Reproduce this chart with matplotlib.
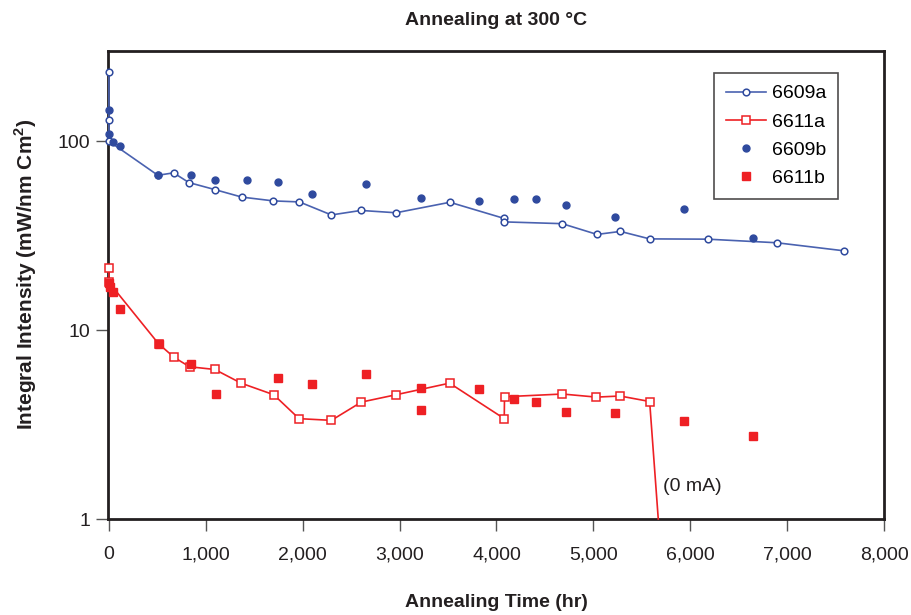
import numpy as np
import matplotlib
matplotlib.use('Agg')
import matplotlib.pyplot as plt
from matplotlib.ticker import FixedLocator, NullLocator

plt.rcParams['font.family'] = ['Liberation Sans', 'DejaVu Sans']

# 6609a - open circles with line
t_6609a = [0, 0, 0, 505, 667, 825, 1090, 1371, 1698, 1966, 2296, 2601, 2963, 3519,
           4080, 4080, 4678, 5038, 5279, 5581, 6179, 6894, 7585]
i_6609a = [232, 129, 100, 66, 68, 60.4, 55.5, 50.6, 48.3, 47.7, 40.7, 43.0, 41.8, 47.5,
           39.0, 37.4, 36.6, 32.1, 33.3, 30.4, 30.3, 29.0, 26.3]

# 6611a - open squares with line (last point: drop to 0 mA)
t_6611a = [0, 0, 512, 673, 832, 1093, 1364, 1701, 1962, 2296, 2605, 2963, 3516,
           4080, 4083, 4681, 5031, 5276, 5581, 5670]
i_6611a = [21.4, 17.9, 8.47, 7.17, 6.40, 6.19, 5.24, 4.55, 3.40, 3.33, 4.16, 4.55, 5.24,
           3.40, 4.44, 4.59, 4.42, 4.48, 4.19, 1.0]

# 6609b - filled circles
t_6609b = [0, 0, 41, 110, 505, 842, 1093, 1430, 1742, 2100, 2653, 3221, 3822, 4176,
           4413, 4719, 5220, 5935, 6647]
i_6609b = [146, 109, 99, 94, 66, 66, 62, 62, 60.5, 52.3, 59.2, 49.9, 48.0, 49.3,
           49.3, 46.2, 39.6, 43.8, 30.8]

# 6611b - filled squares
t_6611b = [0, 10, 44, 113, 512, 842, 1100, 1742, 2100, 2657, 3224, 3224, 3822, 4176,
           4413, 4719, 5227, 5939, 6650]
i_6611b = [17.7, 17.0, 15.9, 12.9, 8.47, 6.63, 4.60, 5.59, 5.20, 5.87, 4.95, 3.79, 4.89,
           4.31, 4.18, 3.70, 3.65, 3.31, 2.75]

xticks = [0, 1000, 2000, 3000, 4000, 5000, 6000, 7000, 8000]
xticklabels = ['0', '1,000', '2,000', '3,000', '4,000', '5,000', '6,000', '7,000', '8,000']
yticks = [1, 10, 100]
yticklabels = ['1', '10', '100']

blue = '#2f4a9e'
blue_line = '#4a62b0'
red = '#ee2024'
dark = '#231f20'

fig = plt.figure(figsize=(9.12, 6.15), dpi=100)
ax = fig.add_axes([0.1184, 0.156, 0.9693 - 0.1184, 0.917 - 0.156])

ax.plot(t_6609a, i_6609a, color=blue_line, lw=1.2, marker='o', ms=4.8, mfc='white',
        mec=blue, mew=1.1, label='6609a', zorder=3, clip_on=False)
ax.plot(t_6611a, i_6611a, color=red, lw=1.2, marker='s', ms=5.6, mfc='white',
        mec=red, mew=1.1, markevery=list(range(len(t_6611a) - 1)), label='6611a',
        zorder=3, clip_on=False)
ax.plot(t_6609b, i_6609b, ls='none', marker='o', ms=5, color=blue, label='6609b',
        zorder=4, clip_on=False)
ax.plot(t_6611b, i_6611b, ls='none', marker='s', ms=5.6, color=red, label='6611b',
        zorder=4, clip_on=False)

ax.text(5720, 1.48, '(0 mA)', fontsize=14, color=dark, va='center', ha='left')

ax.set_yscale('log')
ax.set_xlim(-10, 8000)
ax.set_ylim(1, 300)
ax.yaxis.set_major_locator(FixedLocator(yticks))
ax.yaxis.set_minor_locator(NullLocator())
ax.set_yticklabels(yticklabels)
ax.set_xticks(xticks)
ax.set_xticklabels(xticklabels)
ax.tick_params(direction='out', length=8.5, width=1, color='#555555', labelsize=14,
               labelcolor=dark)
ax.tick_params(axis='x', pad=11)
ax.tick_params(axis='y', pad=4)

for s in ax.spines.values():
    s.set_linewidth(2)
    s.set_color(dark)

ax.set_title('Annealing at 300 °C', fontsize=14, fontweight='bold', pad=19, color=dark)
ax.set_xlabel('Annealing Time (hr)', fontsize=14, fontweight='bold', labelpad=22, color=dark)
ax.set_ylabel('Integral Intensity (mW/nm Cm$^\\mathregular{2}$)', fontsize=15,
              fontweight='bold', labelpad=14, color=dark, y=0.523)

leg = ax.legend(loc='upper right', bbox_to_anchor=(0.941, 0.953), fontsize=14, frameon=True,
                fancybox=False, edgecolor=dark, handlelength=2.1, handletextpad=0.3,
                borderpad=0.6, labelspacing=0.55, borderaxespad=0)
leg.get_frame().set_linewidth(1.2)

fig.savefig('out.png', dpi=100)
